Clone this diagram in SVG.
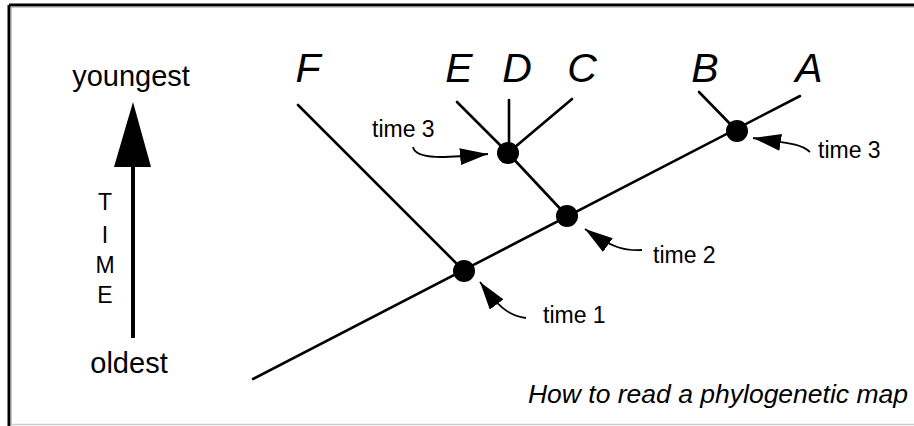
<svg xmlns="http://www.w3.org/2000/svg" width="914" height="426" viewBox="0 0 914 426">
<style>
.br{stroke:#000;stroke-width:2.6;fill:none;stroke-linecap:round}
.cv{stroke:#000;stroke-width:1.8;fill:none}
.nd{fill:#000}
.tip{font-family:"Liberation Sans",Arial,sans-serif;font-style:italic;font-size:41px;fill:#000;text-anchor:middle}
.lab{font-family:"Liberation Sans",Arial,sans-serif;font-size:23px;fill:#000}
.ax{font-family:"Liberation Sans",Arial,sans-serif;font-size:29px;fill:#000;text-anchor:middle}
.tm{font-family:"Liberation Sans",Arial,sans-serif;font-size:23px;fill:#000;text-anchor:middle}
</style>
<defs>
<marker id="ah" viewBox="0 0 28 17" refX="28" refY="8.5" markerWidth="28" markerHeight="17" markerUnits="userSpaceOnUse" orient="auto">
<path d="M0,0 L28,8.5 L0,17 z" fill="#000"/>
</marker>
</defs>
<rect x="0" y="0" width="914" height="426" fill="#fff"/>
<line x1="9" y1="5" x2="914" y2="5" stroke="#000" stroke-width="3"/>
<line x1="9" y1="5" x2="9" y2="426" stroke="#000" stroke-width="3"/>
<line x1="11" y1="7" x2="914" y2="7" stroke="#999" stroke-width="1"/>
<line x1="11" y1="7" x2="11" y2="426" stroke="#999" stroke-width="1"/>
<line x1="11" y1="424.5" x2="914" y2="424.5" stroke="#ccc" stroke-width="1.5"/>

<g id="time-axis">
<text class="ax" x="131" y="86">youngest</text>
<line x1="133" y1="338" x2="133" y2="165" stroke="#000" stroke-width="4"/>
<polygon points="133,102 114,167 151,167" fill="#000"/>
<text class="tm" x="105" y="210">T</text>
<text class="tm" x="105" y="243">I</text>
<text class="tm" x="105" y="273">M</text>
<text class="tm" x="105" y="303">E</text>
<text class="ax" x="129" y="373">oldest</text>
</g>

<g id="connectors">
<line class="br" x1="253" y1="379" x2="800" y2="96"/>
<line class="br" x1="298" y1="105" x2="464" y2="271"/>
<line class="br" x1="567" y1="216" x2="508" y2="153"/>
<line class="br" x1="508" y1="153" x2="457" y2="102"/>
<line class="br" x1="509" y1="153" x2="509" y2="100"/>
<line class="br" x1="508" y1="153" x2="572" y2="99"/>
<line class="br" x1="737" y1="131" x2="699" y2="92"/>
<path class="cv" d="M413,147 C416,160 445,158 488,154" marker-end="url(#ah)"/>
<path class="cv" d="M810,152 C800,143 785,143 753,138" marker-end="url(#ah)"/>
<path class="cv" d="M642,250 C625,251 612,248 585,229" marker-end="url(#ah)"/>
<path class="cv" d="M526,318 C508,316 497,305 480,282" marker-end="url(#ah)"/>
</g>

<g id="node-time1"><circle class="nd" cx="464" cy="271" r="11"/><text class="lab" x="543" y="323">time 1</text></g>
<g id="node-time2"><circle class="nd" cx="567" cy="216" r="11"/><text class="lab" x="653" y="263">time 2</text></g>
<g id="node-time3-left"><circle class="nd" cx="508" cy="153" r="11"/><text class="lab" x="372" y="137">time 3</text></g>
<g id="node-time3-right"><circle class="nd" cx="737" cy="131" r="11"/><text class="lab" x="818" y="158">time 3</text></g>

<g id="tip-F"><text class="tip" x="308" y="82">F</text></g>
<g id="tip-E"><text class="tip" x="459" y="82">E</text></g>
<g id="tip-D"><text class="tip" x="517" y="82">D</text></g>
<g id="tip-C"><text class="tip" x="582" y="82">C</text></g>
<g id="tip-B"><text class="tip" x="705" y="82">B</text></g>
<g id="tip-A"><text class="tip" x="809" y="82">A</text></g>

<text x="908" y="403" font-family="Liberation Sans, Arial, sans-serif" font-style="italic" font-size="26.5" text-anchor="end" fill="#000">How to read a phylogenetic map</text>
</svg>
